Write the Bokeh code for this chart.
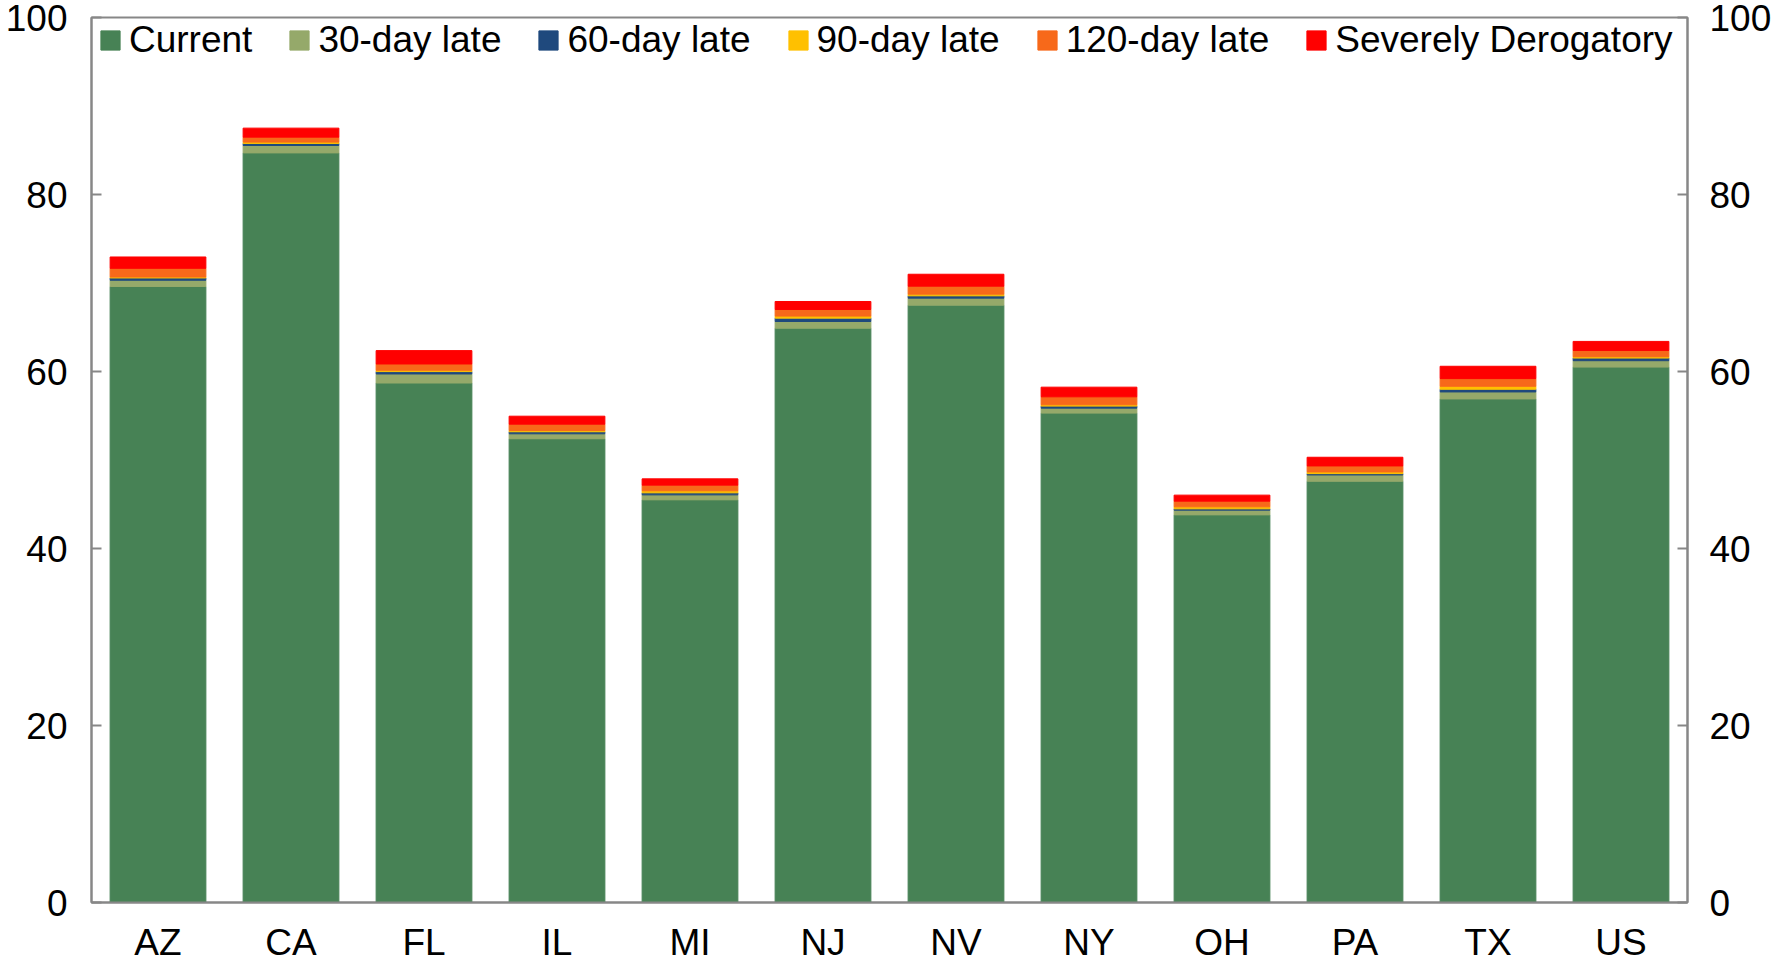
from bokeh.plotting import figure
from bokeh.models import ColumnDataSource, FactorRange, Range1d, LinearAxis, FixedTicker
from bokeh.embed import file_html
from bokeh.resources import INLINE

# ---- data ----
states = ["AZ", "CA", "FL", "IL", "MI", "NJ", "NV", "NY", "OH", "PA", "TX", "US"]
current = [69.6, 84.7, 58.7, 52.4, 45.5, 64.9, 67.5, 55.3, 43.8, 47.6, 56.9, 60.5]
late30 = [0.71, 0.84, 1.02, 0.56, 0.56, 0.75, 0.79, 0.56, 0.53, 0.71, 0.79, 0.72]
late60 = [0.26, 0.23, 0.27, 0.23, 0.23, 0.38, 0.26, 0.23, 0.15, 0.15, 0.30, 0.30]
late90 = [0.11, 0.15, 0.15, 0.15, 0.23, 0.23, 0.19, 0.15, 0.23, 0.19, 0.34, 0.15]
late120 = [0.98, 0.56, 0.71, 0.71, 0.64, 0.75, 0.90, 0.90, 0.64, 0.68, 0.87, 0.71]
severe = [1.28, 1.02, 1.51, 0.90, 0.71, 0.90, 1.35, 1.09, 0.68, 0.98, 1.39, 1.02]
series_names = ["Current", "30-day late", "60-day late", "90-day late",
                "120-day late", "Severely Derogatory"]
y_ticks = [0, 20, 40, 60, 80, 100]

colors = ["#478255", "#95A96A", "#1F497D", "#FFC000", "#F7691A", "#FF0000"]
keys = ["current", "late30", "late60", "late90", "late120", "severe"]

source = ColumnDataSource(dict(state=states, current=current, late30=late30,
                               late60=late60, late90=late90, late120=late120,
                               severe=severe))

FONT = "Liberation Sans"
GREY = "#878787"

p = figure(x_range=FactorRange(factors=states, range_padding=0),
           y_range=Range1d(0, 100),
           width=1775, height=965,
           output_backend="svg", toolbar_location=None,
           min_border_left=91, min_border_right=88,
           min_border_top=17, min_border_bottom=62)

p.vbar_stack(keys, x="state", width=0.72, color=colors, source=source,
             legend_label=series_names)

p.xgrid.grid_line_color = None
p.ygrid.grid_line_color = None
p.outline_line_color = GREY
p.outline_line_width = 2
p.background_fill_color = "white"
p.border_fill_color = "white"

# left axis
ya = p.yaxis[0]
ya.ticker = FixedTicker(ticks=y_ticks)
ya.major_tick_in = 10
ya.major_tick_out = 0
ya.minor_tick_line_color = None
ya.axis_line_color = GREY
ya.axis_line_width = 2
ya.major_tick_line_color = GREY
ya.major_tick_line_width = 2
ya.major_label_standoff = 24
ya.major_label_text_font = FONT
ya.major_label_text_font_size = "37px"
ya.major_label_text_color = "black"

# right axis
ra = LinearAxis(ticker=FixedTicker(ticks=y_ticks))
ra.major_tick_in = 10
ra.major_tick_out = 0
ra.minor_tick_line_color = None
ra.axis_line_color = GREY
ra.axis_line_width = 2
ra.major_tick_line_color = GREY
ra.major_tick_line_width = 2
ra.major_label_standoff = 22
ra.major_label_text_font = FONT
ra.major_label_text_font_size = "37px"
ra.major_label_text_color = "black"
p.add_layout(ra, "right")

# x axis
xa = p.xaxis[0]
xa.axis_line_color = GREY
xa.axis_line_width = 2
xa.major_tick_line_color = None
xa.minor_tick_line_color = None
xa.major_label_standoff = 13
xa.major_label_text_font = FONT
xa.major_label_text_font_size = "37px"
xa.major_label_text_color = "black"

# legend
lg = p.legend[0]
lg.orientation = "horizontal"
lg.location = (7, 841)
lg.margin = 0
lg.padding = 2
lg.spacing = 35
lg.label_standoff = 7
lg.glyph_width = 24
lg.glyph_height = 24
lg.label_text_font = FONT
lg.label_text_font_size = "37px"
lg.label_text_color = "black"
lg.border_line_color = None
lg.background_fill_alpha = 0

open("out.html", "w").write(file_html(p, INLINE))
